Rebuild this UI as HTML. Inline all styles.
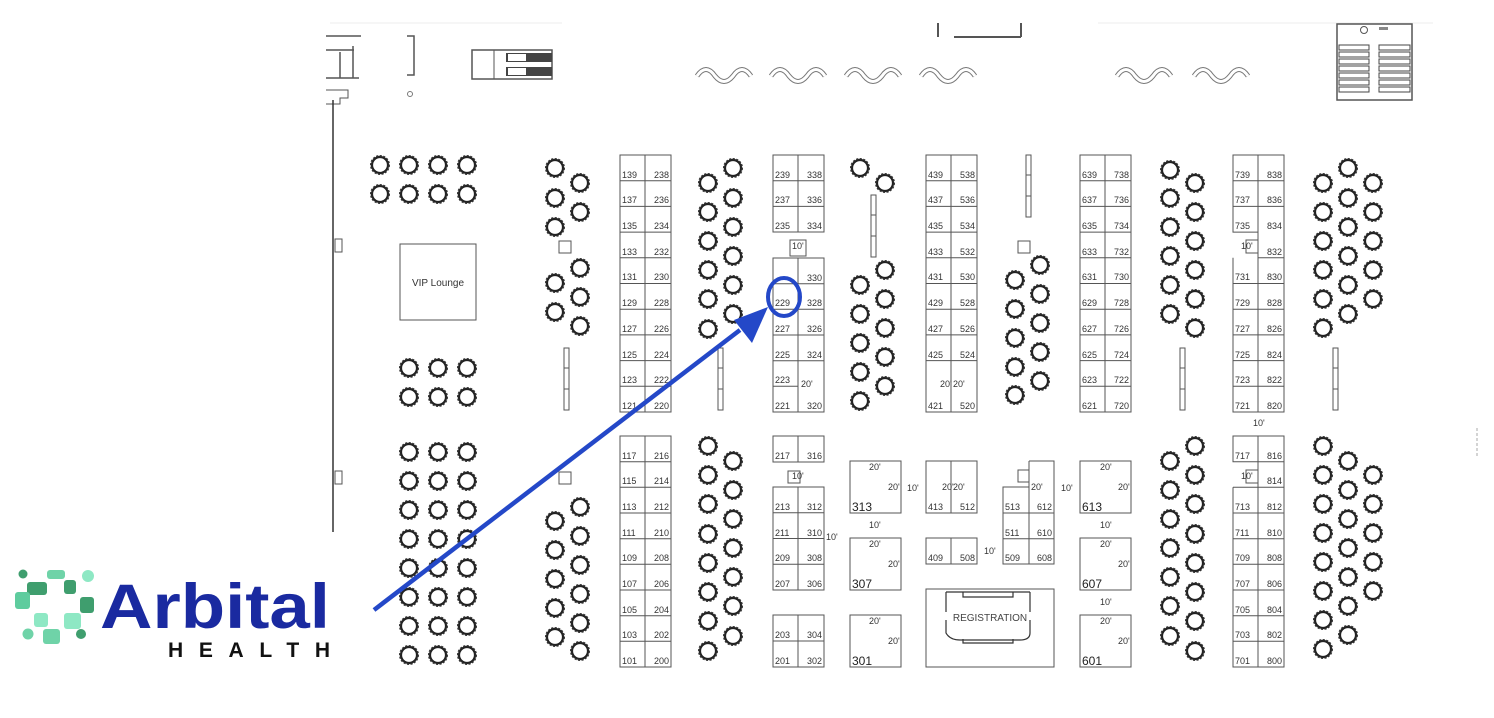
<!DOCTYPE html>
<html><head><meta charset="utf-8"><style>
html,body{margin:0;padding:0;background:#fff;}
svg{display:block;}
text{font-family:"Liberation Sans",Arial,sans-serif;}
.b text{font-size:9px;fill:#333;}
.cell{fill:none;stroke:#555;stroke-width:1;}
</style></head><body>
<svg width="1494" height="718" viewBox="0 0 1494 718" xmlns="http://www.w3.org/2000/svg">
<defs>
<g id="t"><circle r="8" fill="none" stroke="#222" stroke-width="2.2"/><circle r="9.3" fill="none" stroke="#333" stroke-width="1.4" stroke-dasharray="2.2 1.4"/></g>
<g id="w"><path d="M0,10 Q9,-3 18,10 Q27,21 36,10 Q45,-3 54,10" fill="none" stroke="#777" stroke-width="5"/><path d="M0,10 Q9,-3 18,10 Q27,21 36,10 Q45,-3 54,10" fill="none" stroke="#fff" stroke-width="3"/></g>
<g id="bar"><rect x="0" y="0" width="5" height="62" fill="#fff" stroke="#555"/><line x1="0" y1="20" x2="5" y2="20" stroke="#555"/><line x1="0" y1="41" x2="5" y2="41" stroke="#555"/></g>
<g id="sq"><rect x="0" y="0" width="12" height="12" fill="#fff" stroke="#555"/></g>
</defs>

<line x1="330" y1="23" x2="562" y2="23" stroke="#eee"/>
<line x1="1098" y1="23" x2="1433" y2="23" stroke="#eee"/>
<path d="M326,36 H361 M326,50 H354 M326,78 H359 M340,52 V78 M353,46 V78" stroke="#555" fill="none" stroke-width="1.5"/>
<path d="M326,90 H348 V98 H340 V104 H326" stroke="#555" fill="none"/>
<path d="M407,36 H414 V75 H407" stroke="#555" fill="none" stroke-width="1.5"/>
<circle cx="410" cy="94" r="2.5" fill="none" stroke="#777"/>
<rect x="472" y="50" width="80" height="29" fill="#fff" stroke="#555" stroke-width="1.5"/>
<line x1="494" y1="50" x2="494" y2="79" stroke="#555"/>
<rect x="506" y="53" width="46" height="9" fill="#444"/>
<rect x="506" y="67" width="46" height="9" fill="#444"/>
<rect x="508" y="54" width="18" height="7" fill="#fff"/><rect x="508" y="68" width="18" height="7" fill="#fff"/>
<path d="M938,23 V37 M954,37 H1021 M1021,23 V37" stroke="#555" fill="none" stroke-width="2"/>
<use href="#w" x="697" y="66"/><use href="#w" x="771" y="66"/><use href="#w" x="846" y="66"/><use href="#w" x="921" y="66"/><use href="#w" x="1117" y="66"/><use href="#w" x="1194" y="66"/>
<rect x="1337" y="24" width="75" height="76" fill="#fff" stroke="#555" stroke-width="1.5"/>
<circle cx="1364" cy="30" r="3.5" fill="none" stroke="#555"/><rect x="1379" y="27" width="9" height="3" fill="#888"/>
<g fill="none" stroke="#444" stroke-width="1">
<rect x="1339" y="45" width="30" height="5"/><rect x="1379" y="45" width="31" height="5"/>
<rect x="1339" y="52" width="30" height="5"/><rect x="1379" y="52" width="31" height="5"/>
<rect x="1339" y="59" width="30" height="5"/><rect x="1379" y="59" width="31" height="5"/>
<rect x="1339" y="66" width="30" height="5"/><rect x="1379" y="66" width="31" height="5"/>
<rect x="1339" y="73" width="30" height="5"/><rect x="1379" y="73" width="31" height="5"/>
<rect x="1339" y="80" width="30" height="5"/><rect x="1379" y="80" width="31" height="5"/>
<rect x="1339" y="87" width="30" height="5"/><rect x="1379" y="87" width="31" height="5"/>
</g>
<line x1="333" y1="100" x2="333" y2="532" stroke="#333" stroke-width="1.5"/>
<rect x="335" y="239" width="7" height="13" fill="#fff" stroke="#555"/><rect x="335" y="471" width="7" height="13" fill="#fff" stroke="#555"/>
<path d="M1477,428 v30" stroke="#aaa" stroke-dasharray="3 2"/>

<rect x="400" y="244" width="76" height="76" fill="#fff" stroke="#555"/>
<text x="438" y="286" font-size="10" text-anchor="middle" fill="#333">VIP Lounge</text>

<g>
<use href="#t" x="380" y="165"/><use href="#t" x="409" y="165"/><use href="#t" x="438" y="165"/><use href="#t" x="467" y="165"/>
<use href="#t" x="380" y="194"/><use href="#t" x="409" y="194"/><use href="#t" x="438" y="194"/><use href="#t" x="467" y="194"/>
<use href="#t" x="409" y="368"/><use href="#t" x="438" y="368"/><use href="#t" x="467" y="368"/>
<use href="#t" x="409" y="397"/><use href="#t" x="438" y="397"/><use href="#t" x="467" y="397"/>
<use href="#t" x="409" y="452"/><use href="#t" x="438" y="452"/><use href="#t" x="467" y="452"/>
<use href="#t" x="409" y="481"/><use href="#t" x="438" y="481"/><use href="#t" x="467" y="481"/>
<use href="#t" x="409" y="510"/><use href="#t" x="438" y="510"/><use href="#t" x="467" y="510"/>
<use href="#t" x="409" y="539"/><use href="#t" x="438" y="539"/><use href="#t" x="467" y="539"/>
<use href="#t" x="409" y="568"/><use href="#t" x="438" y="568"/><use href="#t" x="467" y="568"/>
<use href="#t" x="409" y="597"/><use href="#t" x="438" y="597"/><use href="#t" x="467" y="597"/>
<use href="#t" x="409" y="626"/><use href="#t" x="438" y="626"/><use href="#t" x="467" y="626"/>
<use href="#t" x="409" y="655"/><use href="#t" x="438" y="655"/><use href="#t" x="467" y="655"/>

<use href="#t" x="555" y="168"/><use href="#t" x="580" y="183"/><use href="#t" x="555" y="198"/><use href="#t" x="580" y="212"/><use href="#t" x="555" y="227"/>
<use href="#t" x="580" y="268"/><use href="#t" x="555" y="283"/><use href="#t" x="580" y="297"/><use href="#t" x="555" y="312"/><use href="#t" x="580" y="326"/>
<use href="#t" x="580" y="507"/><use href="#t" x="555" y="521"/><use href="#t" x="580" y="536"/><use href="#t" x="555" y="550"/><use href="#t" x="580" y="565"/><use href="#t" x="555" y="579"/><use href="#t" x="580" y="594"/><use href="#t" x="555" y="608"/><use href="#t" x="580" y="623"/><use href="#t" x="555" y="637"/><use href="#t" x="580" y="651"/>

<use href="#t" x="733" y="168"/><use href="#t" x="708" y="183"/><use href="#t" x="733" y="198"/><use href="#t" x="708" y="212"/><use href="#t" x="733" y="227"/><use href="#t" x="708" y="241"/><use href="#t" x="733" y="256"/><use href="#t" x="708" y="270"/><use href="#t" x="733" y="285"/><use href="#t" x="708" y="299"/><use href="#t" x="733" y="314"/><use href="#t" x="708" y="329"/>
<use href="#t" x="708" y="446"/><use href="#t" x="733" y="461"/><use href="#t" x="708" y="475"/><use href="#t" x="733" y="490"/><use href="#t" x="708" y="504"/><use href="#t" x="733" y="519"/><use href="#t" x="708" y="534"/><use href="#t" x="733" y="548"/><use href="#t" x="708" y="563"/><use href="#t" x="733" y="577"/><use href="#t" x="708" y="592"/><use href="#t" x="733" y="606"/><use href="#t" x="708" y="621"/><use href="#t" x="733" y="636"/><use href="#t" x="708" y="651"/>

<use href="#t" x="860" y="168"/><use href="#t" x="885" y="183"/>
<use href="#t" x="885" y="270"/><use href="#t" x="860" y="285"/><use href="#t" x="885" y="299"/><use href="#t" x="860" y="314"/><use href="#t" x="885" y="328"/><use href="#t" x="860" y="343"/><use href="#t" x="885" y="357"/><use href="#t" x="860" y="372"/><use href="#t" x="885" y="386"/><use href="#t" x="860" y="401"/>

<use href="#t" x="1040" y="265"/><use href="#t" x="1015" y="280"/><use href="#t" x="1040" y="294"/><use href="#t" x="1015" y="309"/><use href="#t" x="1040" y="323"/><use href="#t" x="1015" y="338"/><use href="#t" x="1040" y="352"/><use href="#t" x="1015" y="367"/><use href="#t" x="1040" y="381"/><use href="#t" x="1015" y="395"/>

<use href="#t" x="1170" y="170"/><use href="#t" x="1195" y="183"/><use href="#t" x="1170" y="198"/><use href="#t" x="1195" y="212"/><use href="#t" x="1170" y="227"/><use href="#t" x="1195" y="241"/><use href="#t" x="1170" y="256"/><use href="#t" x="1195" y="270"/><use href="#t" x="1170" y="285"/><use href="#t" x="1195" y="299"/><use href="#t" x="1170" y="314"/><use href="#t" x="1195" y="328"/>
<use href="#t" x="1195" y="446"/><use href="#t" x="1170" y="461"/><use href="#t" x="1195" y="475"/><use href="#t" x="1170" y="490"/><use href="#t" x="1195" y="504"/><use href="#t" x="1170" y="519"/><use href="#t" x="1195" y="534"/><use href="#t" x="1170" y="548"/><use href="#t" x="1195" y="563"/><use href="#t" x="1170" y="577"/><use href="#t" x="1195" y="592"/><use href="#t" x="1170" y="606"/><use href="#t" x="1195" y="621"/><use href="#t" x="1170" y="636"/><use href="#t" x="1195" y="651"/>

<use href="#t" x="1348" y="168"/><use href="#t" x="1323" y="183"/><use href="#t" x="1373" y="183"/><use href="#t" x="1348" y="198"/><use href="#t" x="1323" y="212"/><use href="#t" x="1373" y="212"/><use href="#t" x="1348" y="227"/><use href="#t" x="1323" y="241"/><use href="#t" x="1373" y="241"/><use href="#t" x="1348" y="256"/><use href="#t" x="1323" y="270"/><use href="#t" x="1373" y="270"/><use href="#t" x="1348" y="285"/><use href="#t" x="1323" y="299"/><use href="#t" x="1373" y="299"/><use href="#t" x="1348" y="314"/><use href="#t" x="1323" y="328"/>
<use href="#t" x="1323" y="446"/><use href="#t" x="1348" y="461"/><use href="#t" x="1323" y="475"/><use href="#t" x="1373" y="475"/><use href="#t" x="1348" y="490"/><use href="#t" x="1323" y="504"/><use href="#t" x="1373" y="504"/><use href="#t" x="1348" y="519"/><use href="#t" x="1323" y="533"/><use href="#t" x="1373" y="533"/><use href="#t" x="1348" y="548"/><use href="#t" x="1323" y="562"/><use href="#t" x="1373" y="562"/><use href="#t" x="1348" y="577"/><use href="#t" x="1323" y="591"/><use href="#t" x="1373" y="591"/><use href="#t" x="1348" y="606"/><use href="#t" x="1323" y="620"/><use href="#t" x="1348" y="635"/><use href="#t" x="1323" y="649"/>
</g>

<use href="#sq" x="559" y="241"/><use href="#sq" x="559" y="472"/><use href="#sq" x="1018" y="241"/>
<use href="#bar" x="564" y="348"/><use href="#bar" x="718" y="348"/><use href="#bar" x="871" y="195"/><use href="#bar" x="1026" y="155"/><use href="#bar" x="1180" y="348"/><use href="#bar" x="1333" y="348"/>

<g class="cell">
<rect x="620" y="155" width="51" height="257"/><line x1="645" y1="155" x2="645" y2="412"/>
<path d="M620,180.7H671M620,206.4H671M620,232.1H671M620,257.8H671M620,283.5H671M620,309.2H671M620,334.9H671M620,360.6H671M620,386.3H671"/>
<rect x="620" y="436" width="51" height="231"/><line x1="645" y1="436" x2="645" y2="667"/>
<path d="M620,461.7H671M620,487.3H671M620,513H671M620,538.7H671M620,564.3H671M620,590H671M620,615.7H671M620,641.3H671"/>
<rect x="773" y="155" width="51" height="77"/><line x1="798" y1="155" x2="798" y2="232"/><path d="M773,180.7H824M773,206.4H824"/>
<rect x="790" y="240" width="16" height="16"/>
<rect x="773" y="258" width="51" height="154"/><line x1="798" y1="258" x2="798" y2="412"/>
<path d="M773,283.7H824M773,309.3H824M773,335H824M773,360.7H824M773,386.3H798"/>
<rect x="773" y="436" width="51" height="26"/><line x1="798" y1="436" x2="798" y2="462"/>
<rect x="788" y="471" width="12" height="12"/>
<rect x="773" y="487" width="51" height="103"/><line x1="798" y1="487" x2="798" y2="590"/><path d="M773,512.7H824M773,538.5H824M773,564.2H824"/>
<rect x="773" y="615" width="51" height="52"/><line x1="798" y1="615" x2="798" y2="667"/><path d="M773,641H824"/>
<rect x="926" y="155" width="51" height="257"/><line x1="951" y1="155" x2="951" y2="412"/>
<path d="M926,180.7H977M926,206.4H977M926,232.1H977M926,257.8H977M926,283.5H977M926,309.2H977M926,334.9H977M926,360.6H977"/>
<rect x="1080" y="155" width="51" height="257"/><line x1="1105" y1="155" x2="1105" y2="412"/>
<path d="M1080,180.7H1131M1080,206.4H1131M1080,232.1H1131M1080,257.8H1131M1080,283.5H1131M1080,309.2H1131M1080,334.9H1131M1080,360.6H1131M1080,386.3H1131"/>
<path d="M1258,155H1233V232.1H1258M1233,180.7H1284M1233,206.4H1284M1258,257.8H1284M1233,283.5H1284M1233,309.2H1284M1233,334.9H1284M1233,360.6H1284M1233,386.3H1284M1233,257.8V412H1284V155H1258V412"/>
<rect x="1246" y="240" width="12" height="13"/>
<path d="M1258,436H1233V461.7H1258M1233,436V461.7M1233,487.3V667H1284V436H1258V667M1233,487.3H1258M1233,513H1284M1233,538.7H1284M1233,564.3H1284M1233,590H1284M1233,615.7H1284M1233,641.3H1284M1258,461.7H1284M1258,487.3H1284"/>
<rect x="1246" y="470" width="12" height="13"/>
<rect x="850" y="461" width="51" height="52"/><rect x="850" y="538" width="51" height="52"/><rect x="850" y="615" width="51" height="52"/>
<rect x="926" y="461" width="51" height="52"/><line x1="951" y1="461" x2="951" y2="513"/>
<rect x="926" y="538" width="51" height="26"/><line x1="951" y1="538" x2="951" y2="564"/>
<path d="M1029,461H1054V564H1003V487H1029V564M1003,513H1054M1003,538.7H1054M1029,461V487"/>
<rect x="1018" y="470" width="11" height="12"/>
<rect x="1080" y="461" width="51" height="52"/><rect x="1080" y="538" width="51" height="52"/><rect x="1080" y="615" width="51" height="52"/>
<rect x="926" y="589" width="128" height="78"/>
</g>
<path d="M946,592V612M1030,592V612M946,620V633Q950,640 960,640H1020Q1030,640 1030,633V620M946,592H1030M963,592V597H1013V592M963,639V643H1013V639" fill="none" stroke="#333" stroke-width="1.2"/>
<text x="990" y="621" font-size="10" text-anchor="middle" fill="#444">REGISTRATION</text>

<g class="b">
<g text-anchor="start">
<text x="622" y="178">139</text><text x="622" y="203">137</text><text x="622" y="229">135</text><text x="622" y="255">133</text><text x="622" y="280">131</text><text x="622" y="306">129</text><text x="622" y="332">127</text><text x="622" y="358">125</text><text x="622" y="383">123</text><text x="622" y="409">121</text>
<text x="622" y="459">117</text><text x="622" y="484">115</text><text x="622" y="510">113</text><text x="622" y="536">111</text><text x="622" y="561">109</text><text x="622" y="587">107</text><text x="622" y="613">105</text><text x="622" y="638">103</text><text x="622" y="664">101</text>
<text x="775" y="178">239</text><text x="775" y="203">237</text><text x="775" y="229">235</text><text x="775" y="306">229</text><text x="775" y="332">227</text><text x="775" y="358">225</text><text x="775" y="383">223</text><text x="775" y="409">221</text>
<text x="775" y="459">217</text><text x="775" y="510">213</text><text x="775" y="536">211</text><text x="775" y="561">209</text><text x="775" y="587">207</text><text x="775" y="638">203</text><text x="775" y="664">201</text>
<text x="928" y="178">439</text><text x="928" y="203">437</text><text x="928" y="229">435</text><text x="928" y="255">433</text><text x="928" y="280">431</text><text x="928" y="306">429</text><text x="928" y="332">427</text><text x="928" y="358">425</text><text x="928" y="409">421</text>
<text x="1082" y="178">639</text><text x="1082" y="203">637</text><text x="1082" y="229">635</text><text x="1082" y="255">633</text><text x="1082" y="280">631</text><text x="1082" y="306">629</text><text x="1082" y="332">627</text><text x="1082" y="358">625</text><text x="1082" y="383">623</text><text x="1082" y="409">621</text>
<text x="1235" y="178">739</text><text x="1235" y="203">737</text><text x="1235" y="229">735</text><text x="1235" y="280">731</text><text x="1235" y="306">729</text><text x="1235" y="332">727</text><text x="1235" y="358">725</text><text x="1235" y="383">723</text><text x="1235" y="409">721</text>
<text x="1235" y="459">717</text><text x="1235" y="510">713</text><text x="1235" y="536">711</text><text x="1235" y="561">709</text><text x="1235" y="587">707</text><text x="1235" y="613">705</text><text x="1235" y="638">703</text><text x="1235" y="664">701</text>
<text x="928" y="510">413</text><text x="928" y="561">409</text>
<text x="1005" y="510">513</text><text x="1005" y="536">511</text><text x="1005" y="561">509</text>
</g>
<g text-anchor="end">
<text x="669" y="178">238</text><text x="669" y="203">236</text><text x="669" y="229">234</text><text x="669" y="255">232</text><text x="669" y="280">230</text><text x="669" y="306">228</text><text x="669" y="332">226</text><text x="669" y="358">224</text><text x="669" y="383">222</text><text x="669" y="409">220</text>
<text x="669" y="459">216</text><text x="669" y="484">214</text><text x="669" y="510">212</text><text x="669" y="536">210</text><text x="669" y="561">208</text><text x="669" y="587">206</text><text x="669" y="613">204</text><text x="669" y="638">202</text><text x="669" y="664">200</text>
<text x="822" y="178">338</text><text x="822" y="203">336</text><text x="822" y="229">334</text><text x="822" y="281">330</text><text x="822" y="306">328</text><text x="822" y="332">326</text><text x="822" y="358">324</text><text x="822" y="409">320</text>
<text x="822" y="459">316</text><text x="822" y="510">312</text><text x="822" y="536">310</text><text x="822" y="561">308</text><text x="822" y="587">306</text><text x="822" y="638">304</text><text x="822" y="664">302</text>
<text x="975" y="178">538</text><text x="975" y="203">536</text><text x="975" y="229">534</text><text x="975" y="255">532</text><text x="975" y="280">530</text><text x="975" y="306">528</text><text x="975" y="332">526</text><text x="975" y="358">524</text><text x="975" y="409">520</text>
<text x="1129" y="178">738</text><text x="1129" y="203">736</text><text x="1129" y="229">734</text><text x="1129" y="255">732</text><text x="1129" y="280">730</text><text x="1129" y="306">728</text><text x="1129" y="332">726</text><text x="1129" y="358">724</text><text x="1129" y="383">722</text><text x="1129" y="409">720</text>
<text x="1282" y="178">838</text><text x="1282" y="203">836</text><text x="1282" y="229">834</text><text x="1282" y="255">832</text><text x="1282" y="280">830</text><text x="1282" y="306">828</text><text x="1282" y="332">826</text><text x="1282" y="358">824</text><text x="1282" y="383">822</text><text x="1282" y="409">820</text>
<text x="1282" y="459">816</text><text x="1282" y="484">814</text><text x="1282" y="510">812</text><text x="1282" y="536">810</text><text x="1282" y="561">808</text><text x="1282" y="587">806</text><text x="1282" y="613">804</text><text x="1282" y="638">802</text><text x="1282" y="664">800</text>
<text x="975" y="510">512</text><text x="975" y="561">508</text>
<text x="1052" y="510">612</text><text x="1052" y="536">610</text><text x="1052" y="561">608</text>
</g>
<text x="792" y="249">10'</text><text x="792" y="479">10'</text><text x="1241" y="249">10'</text><text x="1241" y="479">10'</text>
<text x="1253" y="426">10'</text><text x="826" y="540">10'</text><text x="907" y="491">10'</text><text x="869" y="528">10'</text><text x="984" y="554">10'</text><text x="1061" y="491">10'</text><text x="1100" y="528">10'</text><text x="1100" y="605">10'</text>
<text x="869" y="470">20'</text><text x="888" y="490">20'</text><text x="869" y="547">20'</text><text x="888" y="567">20'</text><text x="869" y="624">20'</text><text x="888" y="644">20'</text>
<text x="1100" y="470">20'</text><text x="1118" y="490">20'</text><text x="1100" y="547">20'</text><text x="1118" y="567">20'</text><text x="1100" y="624">20'</text><text x="1118" y="644">20'</text>
<text x="801" y="387" font-size="6">20'</text><text x="940" y="387" font-size="6">20'</text><text x="953" y="387" font-size="6">20'</text>
<text x="942" y="490" font-size="6">20'</text><text x="953" y="490" font-size="6">20'</text><text x="1031" y="490" font-size="6">20'</text>
</g>
<g font-size="12" fill="#222">
<text x="852" y="511">313</text><text x="852" y="588">307</text><text x="852" y="665">301</text>
<text x="1082" y="511">613</text><text x="1082" y="588">607</text><text x="1082" y="665">601</text>
</g>

<line x1="374" y1="610" x2="740" y2="330" stroke="#2448c8" stroke-width="4.5"/>
<polygon points="768,307 734,320 752,343" fill="#2448c8"/>
<ellipse cx="784" cy="297" rx="16" ry="19" fill="none" stroke="#2448c8" stroke-width="4"/>

<g>
<circle cx="23" cy="574" r="4.5" fill="#3f9e6e"/>
<rect x="47" y="570" width="18" height="9" rx="3" fill="#6fd3a8"/>
<circle cx="88" cy="576" r="6" fill="#8ee8c4"/>
<rect x="27" y="582" width="20" height="13" rx="3" fill="#3f9e6e"/>
<rect x="64" y="580" width="12" height="14" rx="3" fill="#3f9e6e"/>
<rect x="15" y="592" width="15" height="17" rx="3" fill="#5ecc9e"/>
<rect x="80" y="597" width="14" height="16" rx="3" fill="#3f9e6e"/>
<rect x="34" y="613" width="14" height="14" rx="3" fill="#8ee8c4"/>
<rect x="64" y="613" width="17" height="16" rx="3" fill="#8ee8c4"/>
<circle cx="28" cy="634" r="5.5" fill="#6fd3a8"/>
<rect x="43" y="629" width="17" height="15" rx="3" fill="#6fd3a8"/>
<circle cx="81" cy="634" r="5" fill="#3f9e6e"/>
<text x="100" y="628" font-size="63" font-weight="bold" fill="#1a2aa0" textLength="230" lengthAdjust="spacingAndGlyphs">Arbital</text>
<text x="168" y="657" font-size="21" font-weight="bold" fill="#111" textLength="162" lengthAdjust="spacing">HEALTH</text>
</g>
</svg>
</body></html>
